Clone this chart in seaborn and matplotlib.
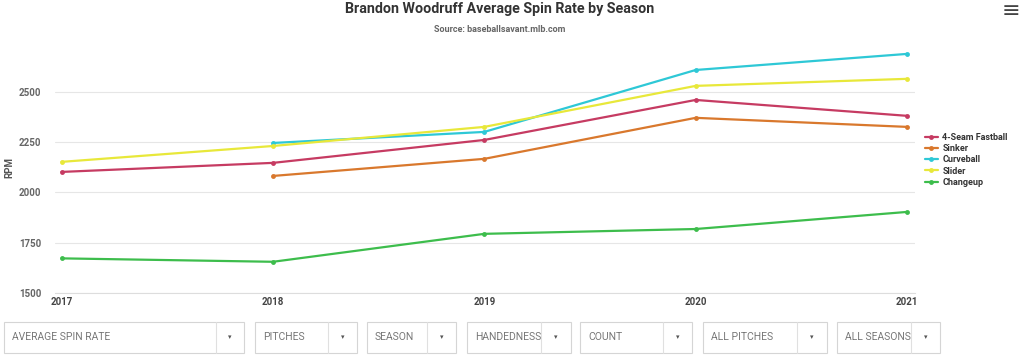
import matplotlib
matplotlib.use("Agg")
import matplotlib.pyplot as plt
from matplotlib.patches import Rectangle
import seaborn as sns
import pandas as pd

# values
seasons = [2017, 2018, 2019, 2020, 2021]
four_seam = [2102, 2147, 2261, 2460, 2381]
sinker = [None, 2082, 2167, 2371, 2326]
curveball = [None, 2246, 2301, 2609, 2689]
slider = [2152, 2231, 2326, 2530, 2565]
changeup = [1672, 1655, 1794, 1818, 1903]

pitch_names = ["4-Seam Fastball", "Sinker", "Curveball", "Slider", "Changeup"]
pitch_colors = ["#c63b62", "#d9782d", "#2ec8d6", "#e8e83a", "#3dbd4c"]

dropdowns = ["AVERAGE SPIN RATE", "PITCHES", "SEASON", "HANDEDNESS",
             "COUNT", "ALL PITCHES", "ALL SEASONS"]

rows = []
for name, vals in zip(pitch_names, [four_seam, sinker, curveball, slider, changeup]):
    for yr, v in zip(seasons, vals):
        if v is not None:
            rows.append({"Season": yr, "RPM": v, "Pitch": name})
df = pd.DataFrame(rows)

sns.set_style("white")
plt.rcParams["font.family"] = ["Roboto", "DejaVu Sans"]

fig = plt.figure(figsize=(10.24, 3.59), dpi=100)
ax = fig.add_axes([0.054, 0.184, 0.84, 0.70])

sns.lineplot(data=df, x="Season", y="RPM", hue="Pitch", hue_order=pitch_names,
             palette=dict(zip(pitch_names, pitch_colors)), marker="o",
             markersize=3.5, markeredgewidth=0, linewidth=1.6, ax=ax)

ax.set_xlim(2017 - 0.03, 2021 + 0.04)
ax.set_ylim(1500, 2750)
ax.set_xticks(seasons)
ax.set_xticklabels([str(s) for s in seasons], fontsize=7, fontweight="bold", color="#444444")
ax.set_yticks([1500, 1750, 2000, 2250, 2500])
ax.tick_params(axis="y", labelsize=7, labelcolor="#666666", length=0, pad=10)
ax.tick_params(axis="x", length=0, pad=3)
for lbl in ax.get_yticklabels():
    lbl.set_fontweight("bold")
ax.yaxis.grid(True, color="#e6e6e6", linewidth=0.8)
ax.set_axisbelow(True)
for side in ["top", "right", "left"]:
    ax.spines[side].set_visible(False)
ax.spines["bottom"].set_color("#dddddd")
ax.set_xlabel("")
ax.set_ylabel("RPM", fontsize=7, fontweight="bold", color="#555555")
ax.yaxis.set_label_coords(-0.048, 0.5)

handles, labels = ax.get_legend_handles_labels()
ax.get_legend().remove()
leg = fig.legend(handles, labels, loc="center left", bbox_to_anchor=(0.903, 0.555),
                 frameon=False, fontsize=6.5, handlelength=1.5, handletextpad=0.45,
                 labelspacing=0.25, borderaxespad=0, borderpad=0)
for t in leg.get_texts():
    t.set_fontweight("bold")
    t.set_color("#333333")

fig.text(0.488, 0.975, "Brandon Woodruff Average Spin Rate by Season", ha="center", va="center",
         fontsize=10.3, fontweight="bold", color="#333333")
fig.text(0.488, 0.918, "Source: baseballsavant.mlb.com", ha="center", va="center",
         fontsize=6.5, fontweight="bold", color="#666666")
fig.text(0.987, 0.97, "\u2261", ha="center", va="center", fontsize=16,
         color="#444444", family=["DejaVu Sans"])

# filter dropdowns under the chart
boxes = [(4, 244, 216), (255, 357, 328), (367, 456, 427), (467, 571, 541),
         (580, 692, 663), (703, 827, 797), (837, 940, 911)]
W, H = 1024, 359
y0, y1 = 322, 353
for label, (xa, xb, xd) in zip(dropdowns, boxes):
    fig.patches.append(Rectangle((xa / W, 1 - y1 / H), (xb - xa) / W, (y1 - y0) / H,
                                 transform=fig.transFigure, fill=False,
                                 edgecolor="#d5d5d5", linewidth=0.8))
    fig.lines.append(plt.Line2D([xd / W, xd / W], [1 - y1 / H, 1 - y0 / H],
                                transform=fig.transFigure, color="#e0e0e0", linewidth=0.8))
    fig.text((xa + 8) / W, 1 - (y0 + y1) / 2 / H, label, ha="left", va="center",
             fontsize=7.5, color="#777777")
    fig.text((xd + xb) / 2 / W, 1 - (y0 + y1) / 2 / H, "\u25be", ha="center", va="center",
             fontsize=5, color="#555555")

fig.savefig("out.png", dpi=100, facecolor="white")
